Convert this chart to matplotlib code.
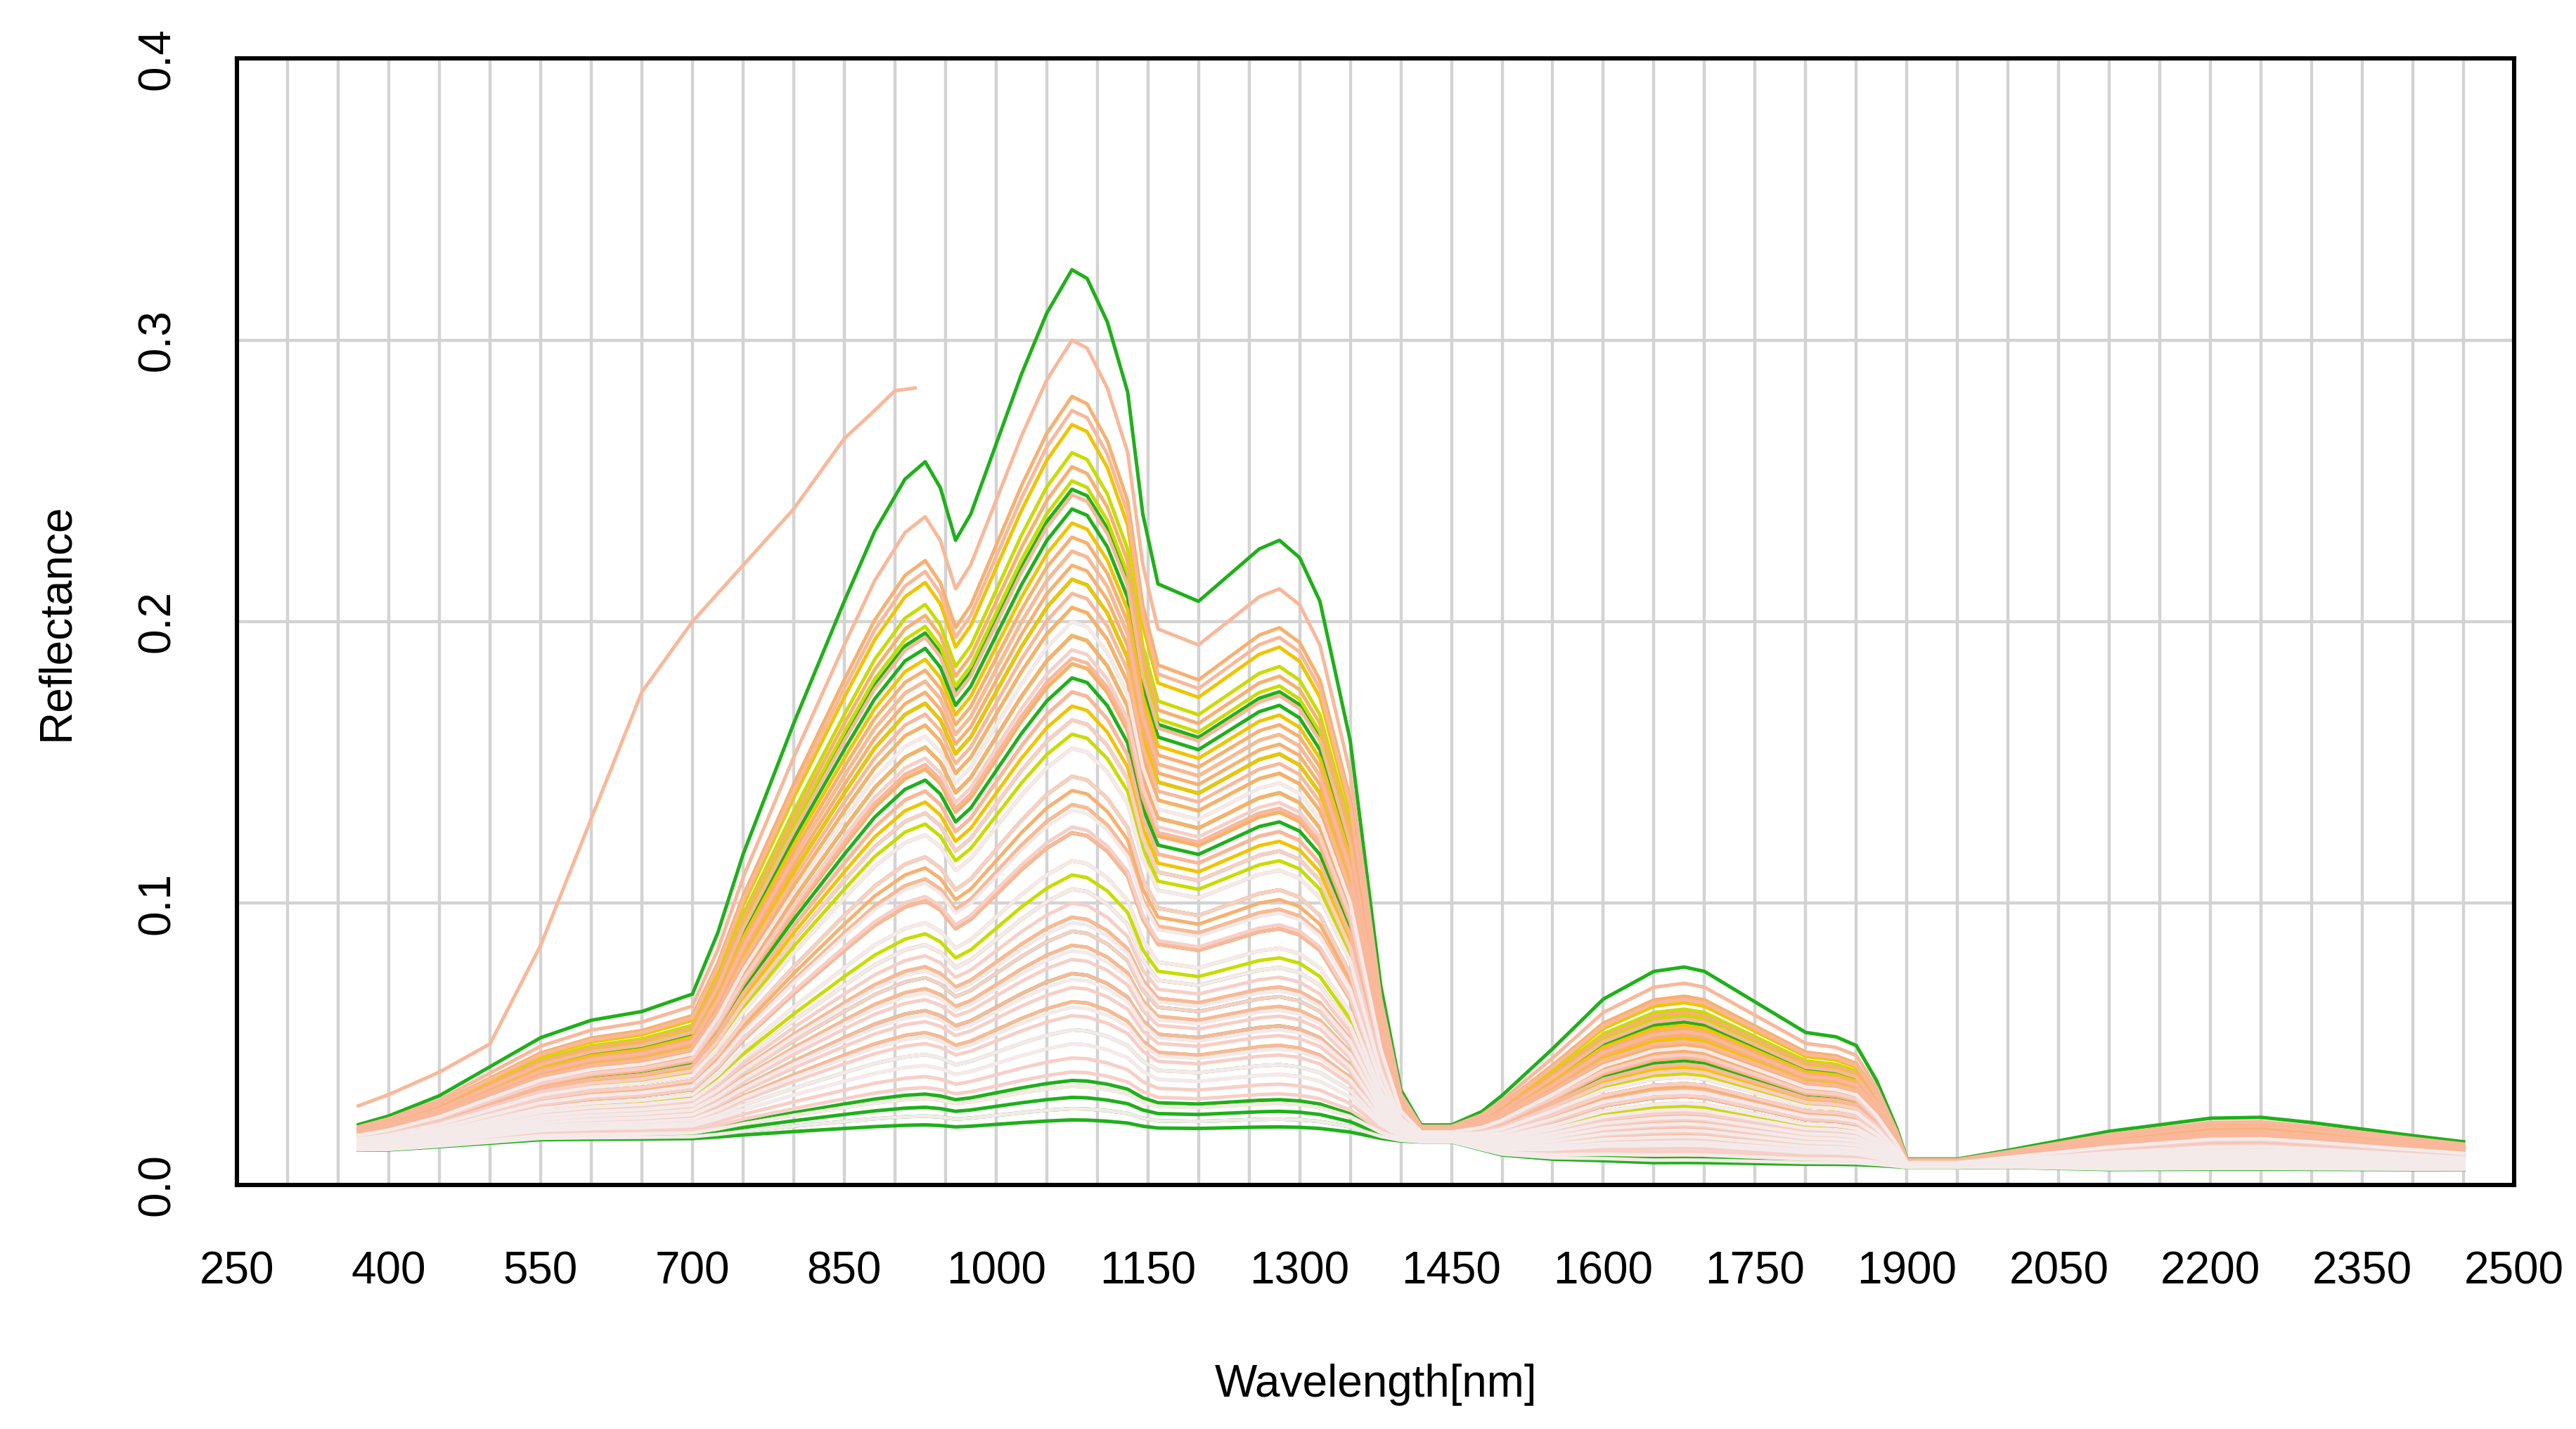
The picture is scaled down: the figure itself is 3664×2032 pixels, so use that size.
import matplotlib
matplotlib.use("Agg")
import matplotlib.pyplot as plt
import numpy as np

plt.rcParams['font.family'] = ['Liberation Sans', 'DejaVu Sans']

wavelengths = [370, 400, 450, 500, 550, 600, 650, 700, 725, 750, 800, 850, 880, 910, 930, 945,
               960, 975, 1000, 1025, 1050, 1075, 1090, 1110, 1130, 1145, 1160, 1200, 1230, 1260,
               1280, 1300, 1320, 1350, 1380, 1400, 1420, 1450, 1480, 1500, 1550, 1600, 1650,
               1680, 1700, 1750, 1800, 1830, 1850, 1870, 1890, 1900, 1950, 2000, 2100, 2200,
               2250, 2300, 2400, 2450]
# normalised spectral shape (1.0 at the 1075 nm peak)
shape = [0.03, 0.04, 0.06, 0.09, 0.12, 0.14, 0.15, 0.17, 0.24, 0.33, 0.48, 0.62, 0.70, 0.76, 0.78, 0.75,
         0.69, 0.72, 0.80, 0.88, 0.95, 1.00, 0.99, 0.94, 0.86, 0.72, 0.64, 0.62, 0.65, 0.68,
         0.69, 0.67, 0.62, 0.46, 0.18, 0.06, 0.02, 0.02, 0.045, 0.07, 0.13, 0.19, 0.225,
         0.23, 0.225, 0.19, 0.155, 0.15, 0.14, 0.10, 0.045, 0.01, 0.01, 0.02, 0.045, 0.06,
         0.061, 0.055, 0.04, 0.033]
# shared baseline added to every spectrum
baseline = [0.012, 0.012, 0.013, 0.014, 0.015, 0.015, 0.015, 0.015, 0.015, 0.015, 0.015, 0.015, 0.015, 0.015, 0.015, 0.015,
            0.015, 0.015, 0.015, 0.015, 0.015, 0.015, 0.015, 0.015, 0.015, 0.015, 0.015, 0.015, 0.015, 0.015,
            0.015, 0.015, 0.015, 0.015, 0.015, 0.015, 0.015, 0.015, 0.012, 0.010, 0.008, 0.007, 0.006,
            0.006, 0.006, 0.006, 0.006, 0.006, 0.006, 0.006, 0.006, 0.006, 0.006, 0.006, 0.005, 0.005,
            0.005, 0.005, 0.005, 0.005]

peaks_green = [0.31, 0.232, 0.225, 0.20, 0.18, 0.165, 0.15, 0.13, 0.11, 0.09, 0.075, 0.06,
               0.04, 0.022, 0.016, 0.012, 0.008]
peaks_yellow = [0.245, 0.235, 0.21, 0.19, 0.17, 0.145, 0.12, 0.095, 0.07, 0.05, 0.02]
peaks_gold = [0.255, 0.22, 0.2, 0.18, 0.155, 0.13, 0.10, 0.08]
peaks_orange = [0.265, 0.24, 0.215, 0.205, 0.19, 0.18, 0.17, 0.16, 0.14, 0.125, 0.11, 0.09]
peaks_salmon = [0.285, 0.26, 0.23, 0.21, 0.195, 0.185, 0.172, 0.16, 0.15, 0.14, 0.13, 0.12,
                0.11, 0.10, 0.09, 0.08, 0.07, 0.06, 0.05]
peaks_pink = [0.175, 0.15, 0.13, 0.112, 0.1, 0.085, 0.075, 0.065, 0.055, 0.045, 0.04, 0.035,
              0.03, 0.025]
peaks_white = [0.185, 0.14, 0.118, 0.1, 0.09, 0.078, 0.068, 0.058, 0.048, 0.04, 0.035, 0.02,
               0.012]

outlier_wl = [370, 400, 450, 500, 550, 600, 650, 700, 750, 800, 850, 880, 900, 920]
outlier_val = [0.028, 0.032, 0.04, 0.05, 0.085, 0.13, 0.175, 0.20, 0.22, 0.24, 0.265, 0.275, 0.282, 0.283]

groups = [
    (peaks_green, "#1fb01a"),
    (peaks_yellow, "#c8dc00"),
    (peaks_gold, "#f0c400"),
    (peaks_orange, "#f8b070"),
    (peaks_salmon, "#f9b89a"),
    (peaks_pink, "#f7cfc6"),
    (peaks_white, "#f4eaea"),
]

fig = plt.figure(figsize=(18.32, 10.16), dpi=200)
ax = fig.add_axes([0.092, 0.171, 0.884, 0.788])

wl = np.array(wavelengths)
sh = np.array(shape)
bl = np.array(baseline)
for peaks, col in groups:
    for p in peaks:
        ax.plot(wl, bl + sh * p, color=col, lw=1.8)
ax.plot(outlier_wl, outlier_val, color="#f9b89a", lw=1.8)

ax.set_xlim(250, 2500)
ax.set_ylim(0, 0.4)
ax.set_xticks(np.arange(250, 2501, 150))
ax.set_xticks(np.arange(250, 2501, 50), minor=True)
ax.set_yticks([0.0, 0.1, 0.2, 0.3, 0.4])
ax.set_yticklabels(["0.0", "0.1", "0.2", "0.3", "0.4"], rotation=90, va="center")
ax.grid(True, which="both", axis="x", color="#d3d3d3", lw=1.6)
ax.grid(True, which="major", axis="y", color="#d3d3d3", lw=1.6)
ax.set_axisbelow(True)
ax.tick_params(which="both", length=0, labelsize=23)
ax.tick_params(axis="x", pad=34)
ax.tick_params(axis="y", pad=30)
for s in ax.spines.values():
    s.set_linewidth(2.2)
ax.set_xlabel("Wavelength[nm]", fontsize=23, labelpad=36)
ax.set_ylabel("Reflectance", fontsize=23, labelpad=30)

fig.savefig("out.png", dpi=200)
